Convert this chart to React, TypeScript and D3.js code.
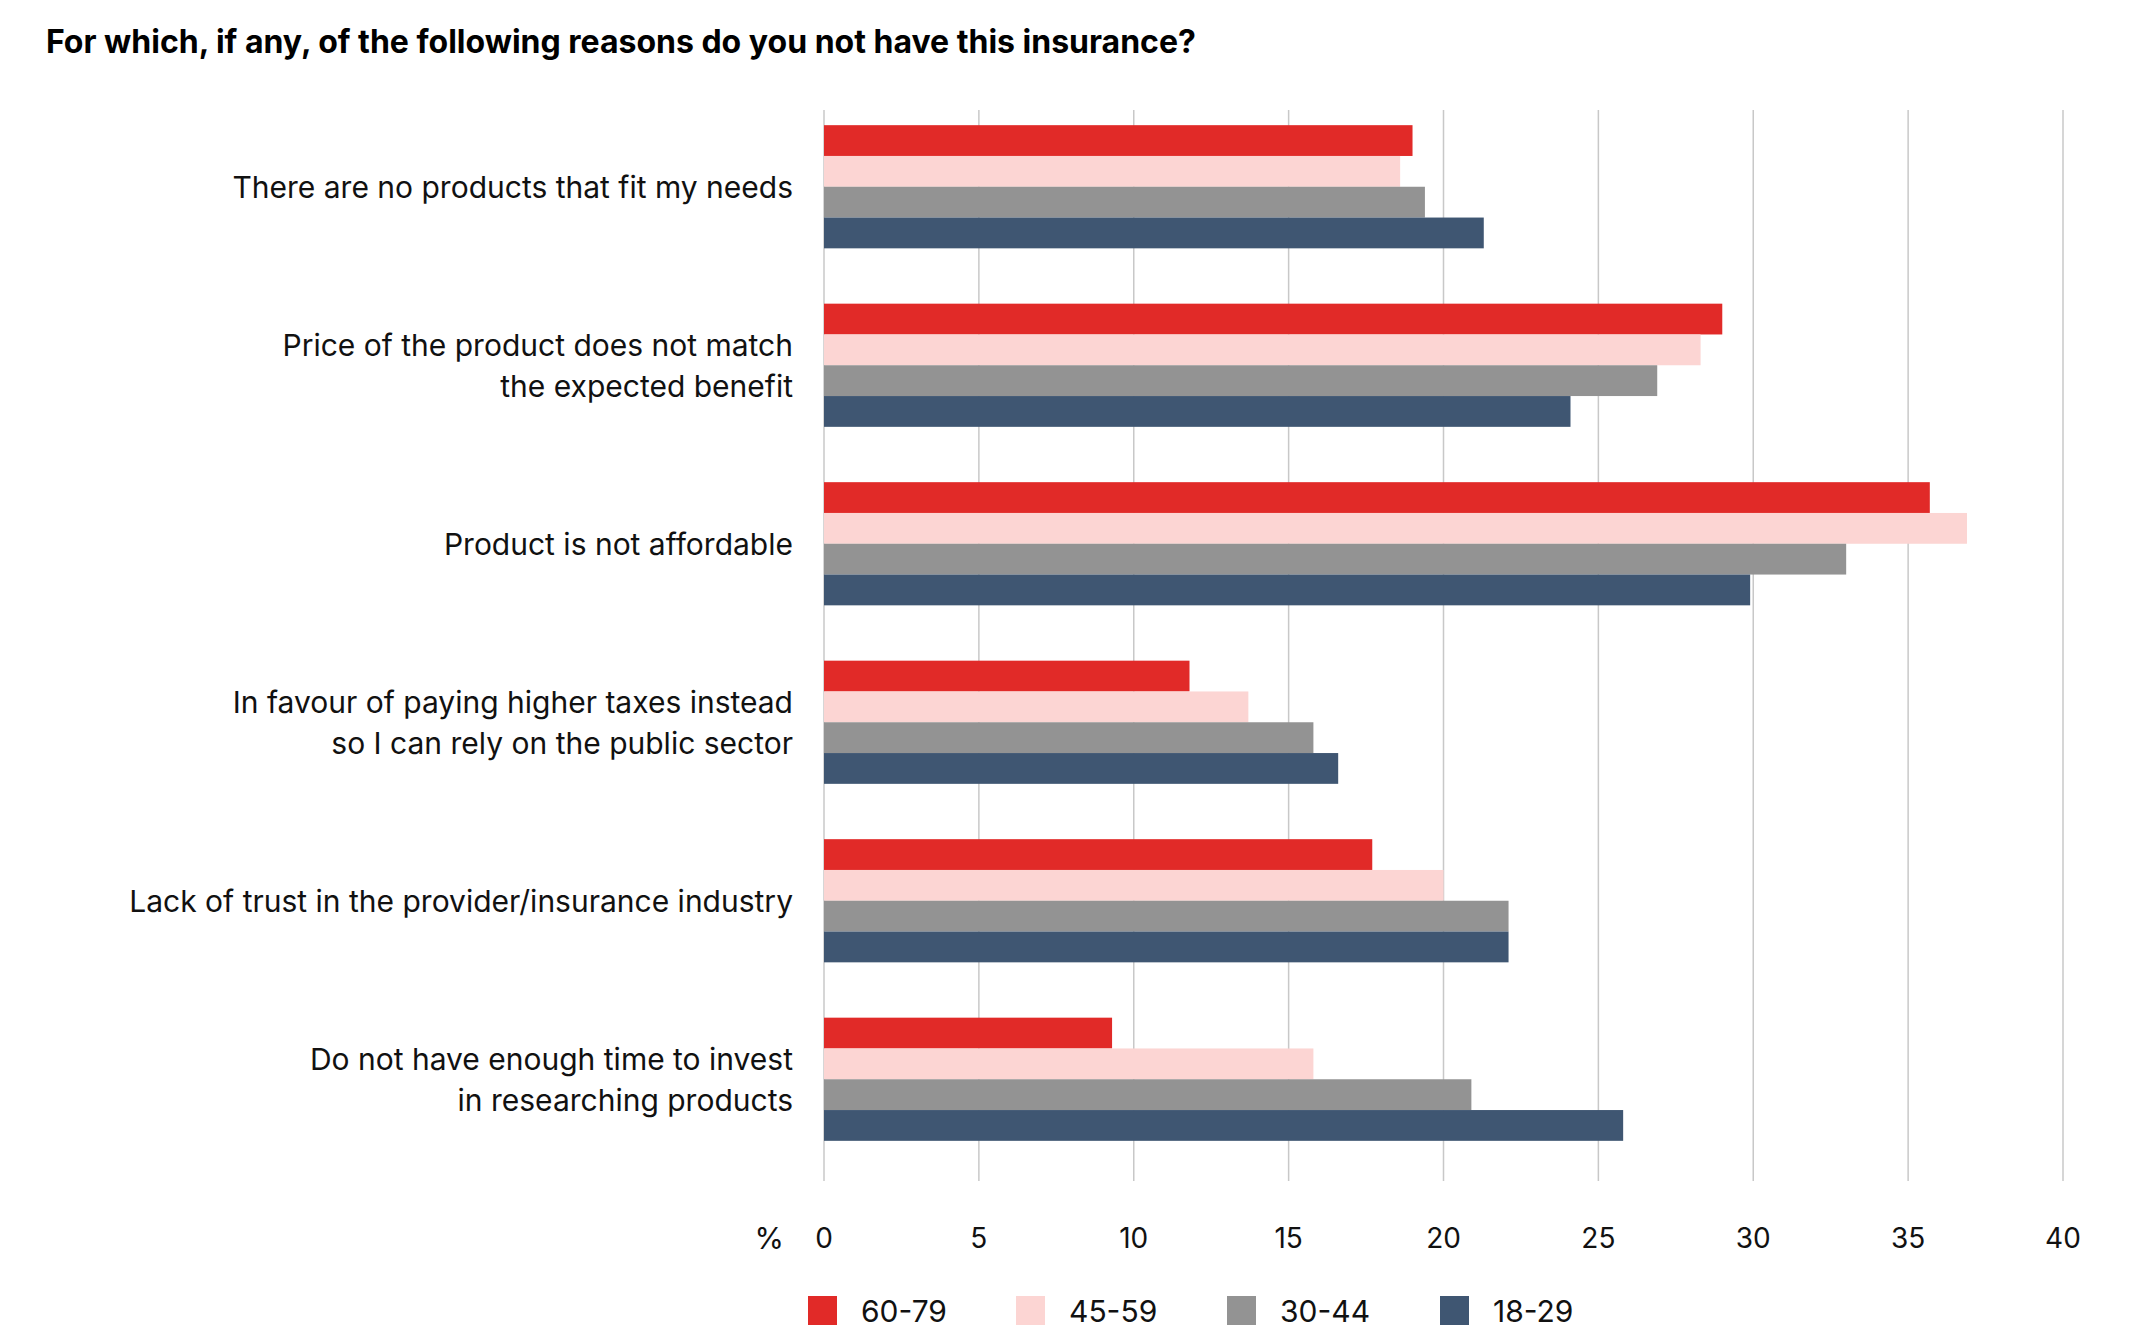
import React from 'react';
import * as d3 from 'd3';

const categories = [
  ['There are no products that fit my needs'],
  ['Price of the product does not match', 'the expected benefit'],
  ['Product is not affordable'],
  ['In favour of paying higher taxes instead', 'so I can rely on the public sector'],
  ['Lack of trust in the provider/insurance industry'],
  ['Do not have enough time to invest', 'in researching products'],
];
const seriesNames = ['60-79', '45-59', '30-44', '18-29'];
const seriesColors = ['#e12a28', '#fcd5d3', '#939393', '#3f5672'];
const values = [
  [19.0, 18.6, 19.4, 21.3],
  [29.0, 28.3, 26.9, 24.1],
  [35.7, 36.9, 33.0, 29.9],
  [11.8, 13.7, 15.8, 16.6],
  [17.7, 20.0, 22.1, 22.1],
  [9.3, 15.8, 20.9, 25.8],
];
const ticks = [0, 5, 10, 15, 20, 25, 30, 35, 40];

const W = 2140, H = 1335;
const font = 'Inter, "Noto Sans", sans-serif';

export default function App() {
  const x = d3.scaleLinear().domain([0, 40]).range([824, 2063]);
  const y = d3.scaleBand<number>().domain(d3.range(categories.length)).range([110, 1181]);
  const bw = y.bandwidth();
  const inner = d3.scaleBand<number>().domain(d3.range(4)).range([bw * 0.085, bw * 0.775]);

  return (
    <svg width={W} height={H} style={{ position: 'absolute', left: 0, top: 0, background: '#fff' }} fontFamily={font}>
      <text x={46} y={53} fontSize={32} fontWeight={700} fill="#000">
        For which, if any, of the following reasons do you not have this insurance?
      </text>
      {ticks.map(t => (
        <line key={t} x1={x(t)} x2={x(t)} y1={110} y2={1181} stroke="#c8c8c8" strokeWidth={1.5} />
      ))}
      {values.map((row, ci) => (
        <g key={ci} transform={`translate(0,${y(ci)})`}>
          {row.map((v, si) => (
            <rect key={si} x={x(0)} y={inner(si)} width={x(v) - x(0)} height={inner.bandwidth()} fill={seriesColors[si]} />
          ))}
          {categories[ci].map((line, li) => {
            const mid = (inner(0)! + inner(3)! + inner.bandwidth()) / 2;
            const n = categories[ci].length;
            return (
              <text key={li} x={793} y={mid + 11 + (li - (n - 1) / 2) * 41} textAnchor="end" fontSize={30} fill="#111">
                {line}
              </text>
            );
          })}
        </g>
      ))}
      <text x={784} y={1249} textAnchor="end" fontSize={30} fill="#111">%</text>
      {ticks.map(t => (
        <text key={t} x={x(t)} y={1248} textAnchor="middle" fontSize={28} fill="#111">{t}</text>
      ))}
      {seriesNames.map((s, i) => {
        const lx = [808, 1016, 1227, 1440][i];
        return (
          <g key={s}>
            <rect x={lx} y={1296} width={29} height={29} fill={seriesColors[i]} />
            <text x={lx + 53} y={1322} fontSize={30} fill="#111">{s}</text>
          </g>
        );
      })}
    </svg>
  );
}
